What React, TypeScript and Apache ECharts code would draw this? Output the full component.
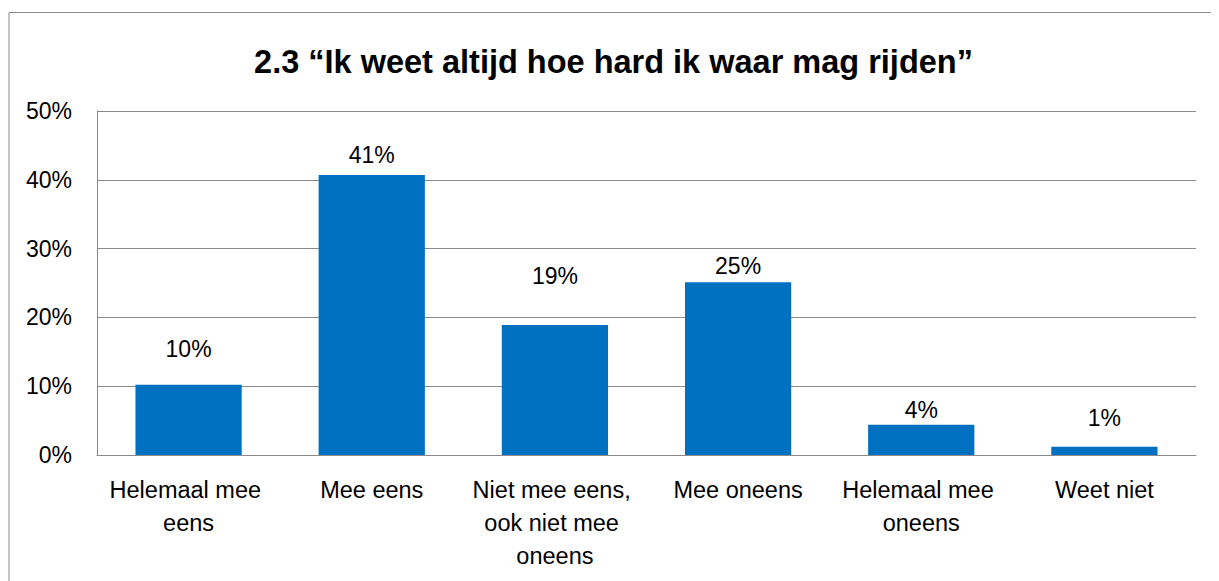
import React, { useEffect, useRef } from "react";
import * as echarts from "echarts";

const titleText = "2.3 \u201cIk weet altijd hoe hard ik waar mag rijden\u201d";
const categories = [
  "Helemaal mee eens",
  "Mee eens",
  "Niet mee eens, ook niet mee oneens",
  "Mee oneens",
  "Helemaal mee oneens",
  "Weet niet",
];
const values = [10.2, 40.7, 18.9, 25.1, 4.4, 1.2];
const valueLabels = ["10%", "41%", "19%", "25%", "4%", "1%"];
const yTicks = [0, 10, 20, 30, 40, 50];

const FONT = "'Liberation Sans', Arial, sans-serif";
const GRAY = "#898989";

export default function App() {
  const ref = useRef<HTMLDivElement>(null);
  useEffect(() => {
    if (!ref.current) return;
    const chart = echarts.init(ref.current, null, { renderer: "svg" });
    const labelDistance = [24, 8, 37, 5, 3, 17];
    chart.setOption({
      animation: false,
      textStyle: { fontFamily: FONT },
      title: {
        text: titleText,
        left: "center",
        top: 32,
        textStyle: { fontFamily: FONT, fontWeight: "bold", fontSize: 32.5, color: "#000" },
      },
      graphic: [
        {
          type: "rect",
          shape: { x: 1, y: 4.5, width: 1400, height: 800 },
          style: { fill: "none", stroke: GRAY, lineWidth: 1 },
          silent: true,
        },
      ],
      grid: { left: 89, right: 23, top: 103, bottom: 126, containLabel: false },
      xAxis: {
        type: "category",
        data: categories,
        axisLine: { show: true, lineStyle: { color: GRAY, width: 1 } },
        axisTick: { show: false },
        axisLabel: {
          interval: 0,
          color: "#000",
          fontFamily: FONT,
          fontSize: 23.5,
          lineHeight: 33,
          margin: 18,
          width: 168,
          overflow: "break",
        },
      },
      yAxis: {
        type: "value",
        min: yTicks[0],
        max: yTicks[yTicks.length - 1],
        interval: 10,
        axisLine: { show: true, lineStyle: { color: GRAY, width: 1 } },
        axisTick: { show: false },
        splitLine: { show: true, lineStyle: { color: GRAY, width: 1 } },
        axisLabel: {
          color: "#000",
          fontFamily: FONT,
          fontSize: 23,
          margin: 25,
          formatter: (v: number) => `${v}%`,
        },
      },
      series: [
        {
          type: "bar",
          barWidth: "58%",
          itemStyle: { color: "#0070C0" },
          data: values.map((v, i) => ({
            value: v,
            label: {
              show: true,
              position: "top",
              distance: labelDistance[i],
              formatter: valueLabels[i],
              color: "#000",
              fontFamily: FONT,
              fontSize: 23,
            },
          })),
        },
      ],
    });
    return () => chart.dispose();
  }, []);
  return <div ref={ref} style={{ width: 1211, height: 573 }} />;
}
